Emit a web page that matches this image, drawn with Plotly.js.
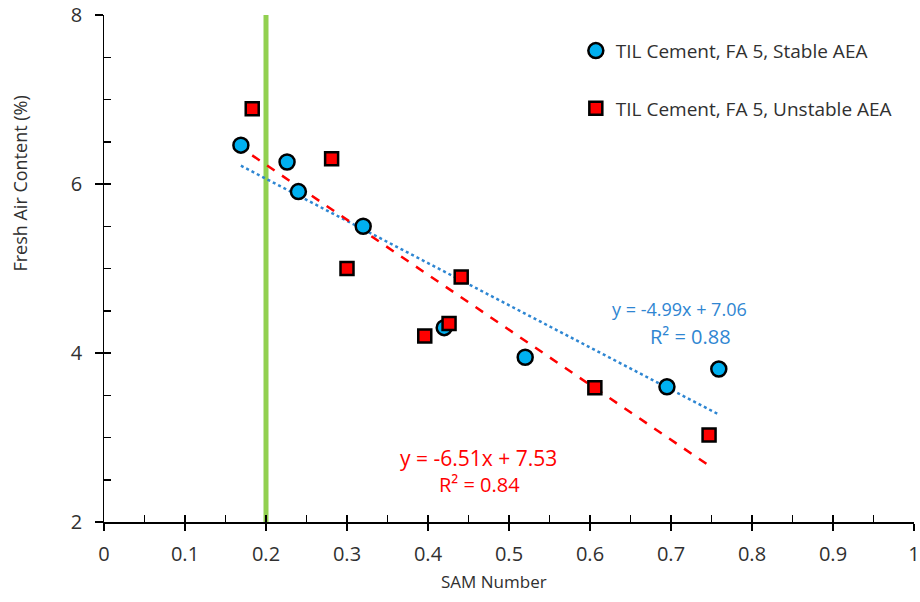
<!DOCTYPE html>
<html>
<head>
<meta charset="utf-8">
<script src="https://cdn.plot.ly/plotly-3.0.1.min.js"></script>
<style>html,body{margin:0;padding:0;background:#fff;}#chart{width:920px;height:602px;}</style>
</head>
<body>
<div id="chart"></div>
<script>
// Data
const stableName = "TIL Cement, FA 5, Stable AEA";
const stableX = [0.169, 0.226, 0.240, 0.320, 0.420, 0.520, 0.695, 0.759];
const stableY = [6.46, 6.26, 5.91, 5.50, 4.30, 3.95, 3.60, 3.81];

const unstableName = "TIL Cement, FA 5, Unstable AEA";
const unstableX = [0.183, 0.281, 0.300, 0.441, 0.396, 0.426, 0.606, 0.747];
const unstableY = [6.89, 6.30, 5.00, 4.90, 4.20, 4.35, 3.59, 3.03];

// Linear trendline fits (slope, intercept) shown on the chart
const stableFit = [-4.99, 7.06];
const unstableFit = [-6.51, 7.53];
const stableFitLabel = ["y = -4.99x + 7.06", "R² = 0.88"];
const unstableFitLabel = ["y = -6.51x + 7.53", "R² = 0.84"];

const xTitle = "SAM Number";
const yTitle = "Fresh Air Content (%)";

// Reference line
const samLimit = [0.2];
const yRange = [2, 8];
const xRange = [0, 1];

function fitLine(xs, fit) {
  const x0 = Math.min(...xs), x1 = Math.max(...xs);
  return {x: [x0, x1], y: [fit[0] * x0 + fit[1], fit[0] * x1 + fit[1]]};
}
const sLine = fitLine(stableX, stableFit);
const uLine = fitLine(unstableX, unstableFit);

const FONT = "Open Sans, sans-serif";
const TXT = "#303030";
const BLUE_TXT = "#2f86d2";
const NB = "\u00a0";

const traces = [
  {x: [samLimit[0], samLimit[0]], y: yRange, mode: "lines", line: {color: "#92d050", width: 5},
   showlegend: false, hoverinfo: "skip"},
  {x: sLine.x, y: sLine.y, mode: "lines", line: {color: "#2e86d2", width: 2.5, dash: "dot"},
   showlegend: false, hoverinfo: "skip"},
  {x: uLine.x, y: uLine.y, mode: "lines", line: {color: "#ff0000", width: 2.5, dash: "dash"},
   showlegend: false, hoverinfo: "skip"},
  {x: stableX, y: stableY, name: stableName, mode: "markers", type: "scatter", legendgroup: "a",
   marker: {symbol: "circle", size: 15, color: "#00b0f0", line: {color: "#000", width: 2.5}}},
  {x: unstableX, y: unstableY, name: unstableName, mode: "markers", type: "scatter", legendgroup: "b",
   marker: {symbol: "square", size: 13, color: "#ff0000", line: {color: "#000", width: 2.5}}},
  {x: [], y: [], xaxis: "x2", yaxis: "y2", showlegend: false, hoverinfo: "skip"}
];

const layout = {
  width: 920, height: 602,
  margin: {l: 104, r: 6, t: 15, b: 80},
  paper_bgcolor: "#fff", plot_bgcolor: "#fff",
  font: {family: FONT, size: 16, color: TXT},
  xaxis: {range: xRange, dtick: 0.1, tick0: 0, showgrid: false, zeroline: false,
          showline: true, linecolor: "#000", linewidth: 1.5,
          ticks: "outside", ticklen: 7, tickwidth: 1.5, tickcolor: "#000",
          ticklabelstandoff: 6,
          tickfont: {family: FONT, size: 20, color: TXT}},
  yaxis: {range: yRange, dtick: 2, tick0: 2, showgrid: false, zeroline: false,
          showline: true, linecolor: "#000", linewidth: 1.5,
          ticks: "outside", ticklen: 8, tickwidth: 1.5, tickcolor: "#000",
          ticksuffix: NB + NB, ticklabelstandoff: -2,
          tickfont: {family: FONT, size: 20, color: TXT}},
  xaxis2: {range: xRange, overlaying: "x", anchor: "y", dtick: 0.05, tick0: 0, showgrid: false,
           zeroline: false, showline: false, showticklabels: false,
           ticks: "inside", ticklen: 7, tickwidth: 1.5, tickcolor: "#000"},
  yaxis2: {range: yRange, overlaying: "y", anchor: "x", dtick: 0.5, tick0: 2, showgrid: false,
           zeroline: false, showline: false, showticklabels: false,
           ticks: "inside", ticklen: 7, tickwidth: 1.5, tickcolor: "#000"},
  showlegend: true,
  legend: {x: 0.5825, y: 0.967, xanchor: "left", yanchor: "top", bgcolor: "rgba(0,0,0,0)",
           font: {family: FONT, size: 19, color: TXT}, tracegroupgap: 30,
           traceorder: "grouped", itemwidth: 30},
  annotations: [
    {x: 0.481, y: -0.118, xref: "paper", yref: "paper", xanchor: "center", yanchor: "middle",
     text: xTitle, showarrow: false, font: {family: FONT, size: 17, color: TXT}},
    {x: -0.104, y: 0.667, xref: "paper", yref: "paper", xanchor: "center", yanchor: "middle",
     text: yTitle, showarrow: false, textangle: -90, font: {family: FONT, size: 18, color: TXT}},
    {x: 0.711, y: 4.52, xref: "x", yref: "y", text: stableFitLabel[0],
     showarrow: false, font: {family: FONT, size: 18, color: BLUE_TXT}},
    {x: 0.724, y: 4.19, xref: "x", yref: "y", text: stableFitLabel[1],
     showarrow: false, font: {family: FONT, size: 20, color: BLUE_TXT}},
    {x: 0.4625, y: 2.76, xref: "x", yref: "y", text: unstableFitLabel[0],
     showarrow: false, font: {family: FONT, size: 21, color: "#ff0000"}},
    {x: 0.463, y: 2.445, xref: "x", yref: "y", text: unstableFitLabel[1],
     showarrow: false, font: {family: FONT, size: 20, color: "#ff0000"}}
  ]
};

Plotly.newPlot("chart", traces, layout, {displayModeBar: false, staticPlot: true});
</script>
</body>
</html>
